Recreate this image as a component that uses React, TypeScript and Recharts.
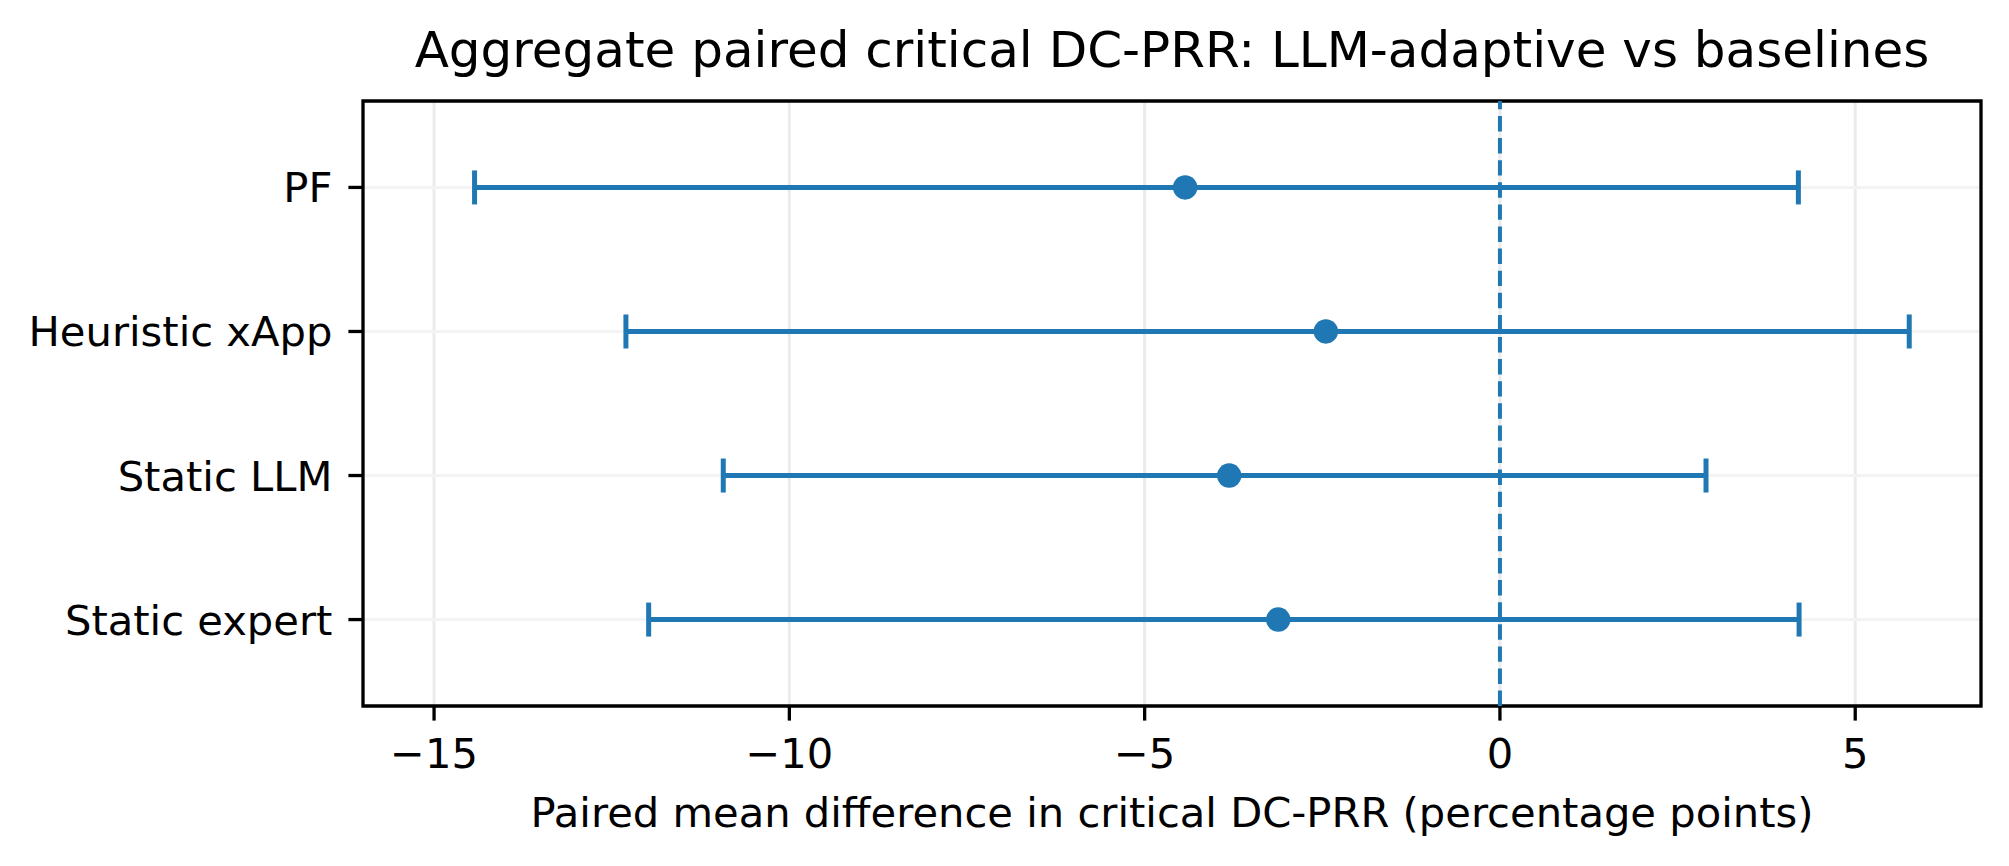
import { CartesianGrid, ErrorBar, ReferenceArea, ReferenceLine, Scatter, ScatterChart, XAxis, YAxis } from "recharts";

const CATEGORIES = ["PF", "Heuristic xApp", "Static LLM", "Static expert"];
const MEANS = [-4.43, -2.45, -3.81, -3.12];
const CI_LOW = [-14.43, -12.3, -10.93, -11.98];
const CI_HIGH = [4.2, 5.76, 2.9, 4.21];
const X_TICKS = [-15, -10, -5, 0, 5];
const X_DOMAIN: [number, number] = [-16.0, 6.77];
const Y_DOMAIN: [number, number] = [-0.6, 3.6];

const TITLE = "Aggregate paired critical DC-PRR: LLM-adaptive vs baselines";
const X_LABEL = "Paired mean difference in critical DC-PRR (percentage points)";

const BLUE = "#1f77b4";
const FONT = "DejaVu Sans, sans-serif";

const data = CATEGORIES.map((name, i) => ({
  name,
  pos: i,
  mean: MEANS[i],
  err: [MEANS[i] - CI_LOW[i], CI_HIGH[i] - MEANS[i]],
}));

const fmt = (v: number) => (v < 0 ? `\u2212${-v}` : `${v}`);

function XTick(props: any) {
  const { x, y, payload } = props;
  return (
    <text x={x} y={y + 47} textAnchor="middle" fontSize={41.67} fontFamily={FONT} fill="#000">
      {fmt(payload.value)}
    </text>
  );
}

function YTick(props: any) {
  const { x, y, payload } = props;
  return (
    <text x={x} y={y + 15} textAnchor="end" fontSize={41.67} fontFamily={FONT} fill="#000">
      {CATEGORIES[payload.value]}
    </text>
  );
}

function XLabel(props: any) {
  const vb = props.viewBox;
  return (
    <text x={vb.x + vb.width / 2} y={vb.y + 121} textAnchor="middle" fontSize={41.67} fontFamily={FONT} fill="#000">
      {X_LABEL}
    </text>
  );
}

const Dot = (props: any) => <circle cx={props.cx} cy={props.cy} r={12.2} fill={BLUE} />;

export default function App() {
  return (
    <div style={{ position: "absolute", left: 0, top: 0, width: 2009, height: 866, background: "#fff" }}>
      <svg width={2009} height={101} style={{ position: "absolute", left: 0, top: 0 }}>
        <text x={1172} y={67} textAnchor="middle" fontSize={50} fontFamily={FONT} fill="#000">
          {TITLE}
        </text>
      </svg>
      <ScatterChart width={2009} height={866} margin={{ top: 101, right: 28, bottom: 0, left: 0 }}>
        <CartesianGrid horizontal={false} stroke="#ebebeb" strokeWidth={3} />
        <CartesianGrid vertical={false} stroke="#f3f3f3" strokeWidth={3} />
        <XAxis
          type="number"
          dataKey="mean"
          domain={X_DOMAIN}
          ticks={X_TICKS}
          allowDataOverflow
          height={160}
          axisLine={false}
          tickLine={{ stroke: "#000", strokeWidth: 3.3 }}
          tickSize={14.6}
          tickMargin={0}
          tick={<XTick />}
          label={{ value: X_LABEL, content: <XLabel /> }}
        />
        <YAxis
          type="number"
          dataKey="pos"
          domain={Y_DOMAIN}
          ticks={[0, 1, 2, 3]}
          reversed
          allowDataOverflow
          width={363}
          axisLine={false}
          tickLine={{ stroke: "#000", strokeWidth: 3.3 }}
          tickSize={14.6}
          tickMargin={16}
          tick={<YTick />}
        />
        <ReferenceLine x={0} stroke={BLUE} strokeWidth={4} strokeDasharray="15.4 6.7" />
        <Scatter data={data} shape={Dot} isAnimationActive={false}>
          <ErrorBar dataKey="err" direction="x" width={17} strokeWidth={5} stroke={BLUE} isAnimationActive={false} />
        </Scatter>
        <ReferenceArea
          x1={X_DOMAIN[0]}
          x2={X_DOMAIN[1]}
          y1={Y_DOMAIN[0]}
          y2={Y_DOMAIN[1]}
          fill="none"
          fillOpacity={0}
          stroke="#000"
          strokeWidth={3.3}
        />
      </ScatterChart>
    </div>
  );
}
